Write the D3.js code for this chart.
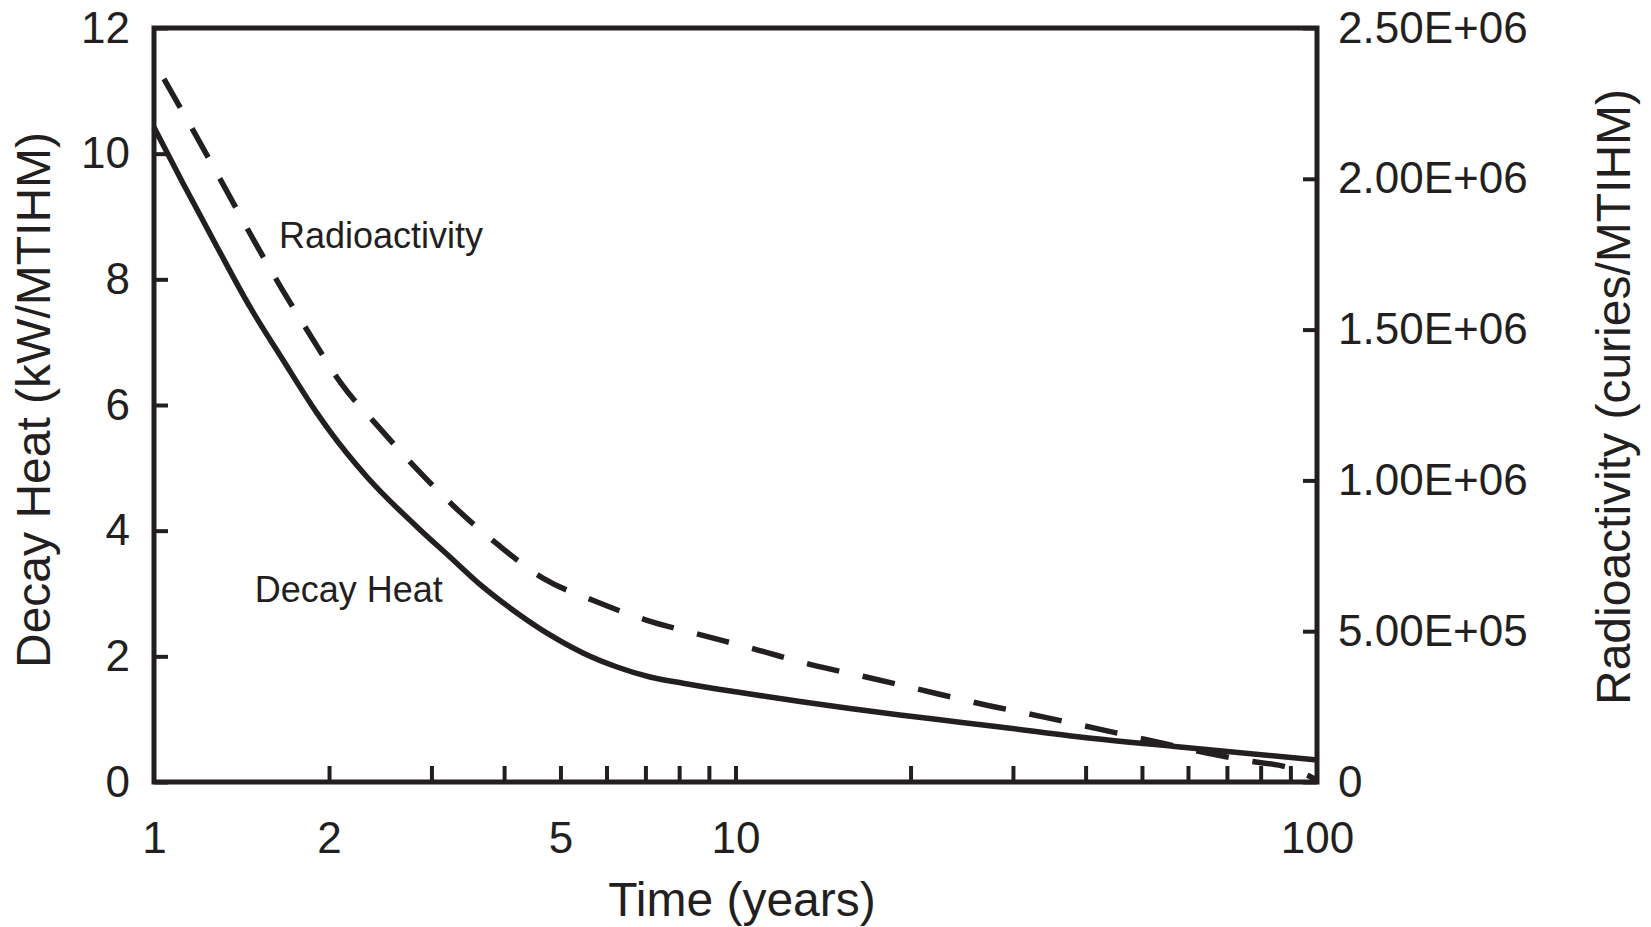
<!DOCTYPE html>
<html>
<head>
<meta charset="utf-8">
<script src="https://cdn.jsdelivr.net/npm/d3@7"></script>
<style>
    body { margin: 0; background: #ffffff; }
    svg { display: block; font-family: "Liberation Sans", Arial, Helvetica, sans-serif; }
    .axis text { fill: #231f20; }
</style>
</head>
<body>
<script>
"use strict";

//
/* Data: */
//

// Decay heat (kW/MTIHM), solid line, left axis
var heatYears = [1, 1.1216, 1.2838, 1.4624, 1.6667, 1.9069, 2.0, 2.3245, 2.834, 3.228, 3.679, 4.209, 4.797, 5.467, 6.255, 7.129, 8.125, 9.294, 10.59, 12.91, 15.74, 19.18, 23.38, 28.5, 39.12, 58.16, 100];
var heatValues = [10.42, 9.53, 8.515, 7.56, 6.716, 5.87, 5.6, 4.854, 4.059, 3.581, 3.104, 2.69, 2.34, 2.053, 1.83, 1.671, 1.571, 1.48, 1.401, 1.281, 1.17, 1.066, 0.971, 0.875, 0.716, 0.557, 0.35];

// Radioactivity (curies/MTIHM), dashed line, right axis
var activityYears = [1.0404, 1.2036, 1.3377, 1.4918, 1.6687, 1.8668, 2.1024, 2.4392, 2.8296, 3.3165, 3.909, 4.6722, 5.7262, 7.0449, 8.7159, 10.815, 13.43, 16.7, 20.6, 25.61, 33.8, 41.84, 51.62, 64.7, 75.49, 89.15, 100];
var activityValues = [2.331e6, 2.115e6, 1.955e6, 1.789e6, 1.627e6, 1.474e6, 1.319e6, 1.175e6, 1.038e6, 0.905e6, 0.786e6, 0.675e6, 0.6e6, 0.536e6, 0.488e6, 0.44e6, 0.39e6, 0.349e6, 0.308e6, 0.265e6, 0.216e6, 0.177e6, 0.138e6, 0.096e6, 0.071e6, 0.048e6, 0.007e6];

// Ticks
var xTickMarks = [2, 3, 4, 5, 6, 7, 8, 9, 10, 20, 30, 40, 50, 60, 70, 80, 90];
var xTickLabels = [1, 2, 5, 10, 100];
var leftTicks = [0, 2, 4, 6, 8, 10, 12];
var rightTicks = [0, 5e5, 1e6, 1.5e6, 2e6, 2.5e6];
var rightTickText = ["0", "5.00E+05", "1.00E+06", "1.50E+06", "2.00E+06", "2.50E+06"];

// Labels
var xTitle = "Time (years)";
var leftTitle = "Decay Heat (kW/MTIHM)";
var rightTitle = "Radioactivity (curies/MTIHM)";
var curveLabels = [
    {text: "Radioactivity", year: 1.64, value: 8.5},
    {text: "Decay Heat", year: 1.49, value: 2.865}
];

//
/* Chart: */
//

var width = 1651,
    height = 927;
var ink = "#231f20";

var plotLeft = 154, plotRight = 1317, plotTop = 28, plotBottom = 782;

var svg = d3.select("body").append("svg")
    .attr("width", width)
    .attr("height", height);

svg.append("rect")
    .attr("width", width)
    .attr("height", height)
    .attr("fill", "#ffffff");

var x = d3.scaleLog().domain([1, 100]).range([plotLeft, plotRight]);
var yHeat = d3.scaleLinear().domain([0, 12]).range([plotBottom, plotTop]);
var yActivity = d3.scaleLinear().domain([0, 2.5e6]).range([plotBottom, plotTop]);

// x tick marks (inward)
svg.append("g")
    .attr("class", "axis")
    .attr("transform", "translate(0," + plotBottom + ")")
    .call(d3.axisBottom(x).tickValues(xTickMarks).tickSize(-16).tickFormat(""))
    .call(function (g) {
        g.select(".domain").remove();
        g.selectAll(".tick line").attr("stroke", ink).attr("stroke-width", 4);
    });

// x tick labels
svg.append("g")
    .attr("class", "axis")
    .attr("transform", "translate(0," + plotBottom + ")")
    .call(d3.axisBottom(x).tickValues(xTickLabels).tickSize(0).tickPadding(40).tickFormat(d3.format("d")))
    .call(function (g) {
        g.select(".domain").remove();
        g.selectAll(".tick text").attr("font-size", 44);
    });

// left axis
svg.append("g")
    .attr("class", "axis")
    .attr("transform", "translate(" + plotLeft + ",0)")
    .call(d3.axisLeft(yHeat).tickValues(leftTicks).tickSize(-14).tickPadding(24))
    .call(function (g) {
        g.select(".domain").remove();
        g.selectAll(".tick line").attr("stroke", ink).attr("stroke-width", 4);
        g.selectAll(".tick text").attr("font-size", 44);
    });

// right axis
svg.append("g")
    .attr("class", "axis")
    .attr("transform", "translate(" + plotRight + ",0)")
    .call(d3.axisRight(yActivity).tickValues(rightTicks).tickSize(-14).tickPadding(21)
        .tickFormat(function (d, i) { return rightTickText[i]; }))
    .call(function (g) {
        g.select(".domain").remove();
        g.selectAll(".tick line").attr("stroke", ink).attr("stroke-width", 4);
        g.selectAll(".tick text").attr("font-size", 44);
    });

// frame
svg.append("rect")
    .attr("x", plotLeft)
    .attr("y", plotTop)
    .attr("width", plotRight - plotLeft)
    .attr("height", plotBottom - plotTop)
    .attr("fill", "none")
    .attr("stroke", ink)
    .attr("stroke-width", 5);

// curves
var heatLine = d3.line()
    .x(function (d, i) { return x(heatYears[i]); })
    .y(function (d) { return yHeat(d); })
    .curve(d3.curveMonotoneX);

var activityLine = d3.line()
    .x(function (d, i) { return x(activityYears[i]); })
    .y(function (d) { return yActivity(d); })
    .curve(d3.curveMonotoneX);

svg.append("path")
    .attr("d", heatLine(heatValues))
    .attr("fill", "none")
    .attr("stroke", ink)
    .attr("stroke-width", 5.5);

svg.append("path")
    .attr("d", activityLine(activityValues))
    .attr("fill", "none")
    .attr("stroke", ink)
    .attr("stroke-width", 5.5)
    .attr("stroke-dasharray", "33,24");

// curve labels
svg.selectAll(".curveLabel")
    .data(curveLabels)
    .enter()
    .append("text")
    .attr("class", "curveLabel")
    .attr("x", function (d) { return x(d.year); })
    .attr("y", function (d) { return yHeat(d.value); })
    .attr("font-size", 36)
    .attr("fill", ink)
    .text(function (d) { return d.text; });

// axis titles
svg.append("text")
    .attr("x", 742)
    .attr("y", 916)
    .attr("text-anchor", "middle")
    .attr("font-size", 48)
    .attr("fill", ink)
    .text(xTitle);

svg.append("text")
    .attr("transform", "translate(50," + 400 + ") rotate(-90)")
    .attr("text-anchor", "middle")
    .attr("font-size", 48)
    .attr("fill", ink)
    .text(leftTitle);

svg.append("text")
    .attr("transform", "translate(1630," + 397 + ") rotate(-90)")
    .attr("text-anchor", "middle")
    .attr("font-size", 48)
    .attr("fill", ink)
    .text(rightTitle);
</script>
</body>
</html>
